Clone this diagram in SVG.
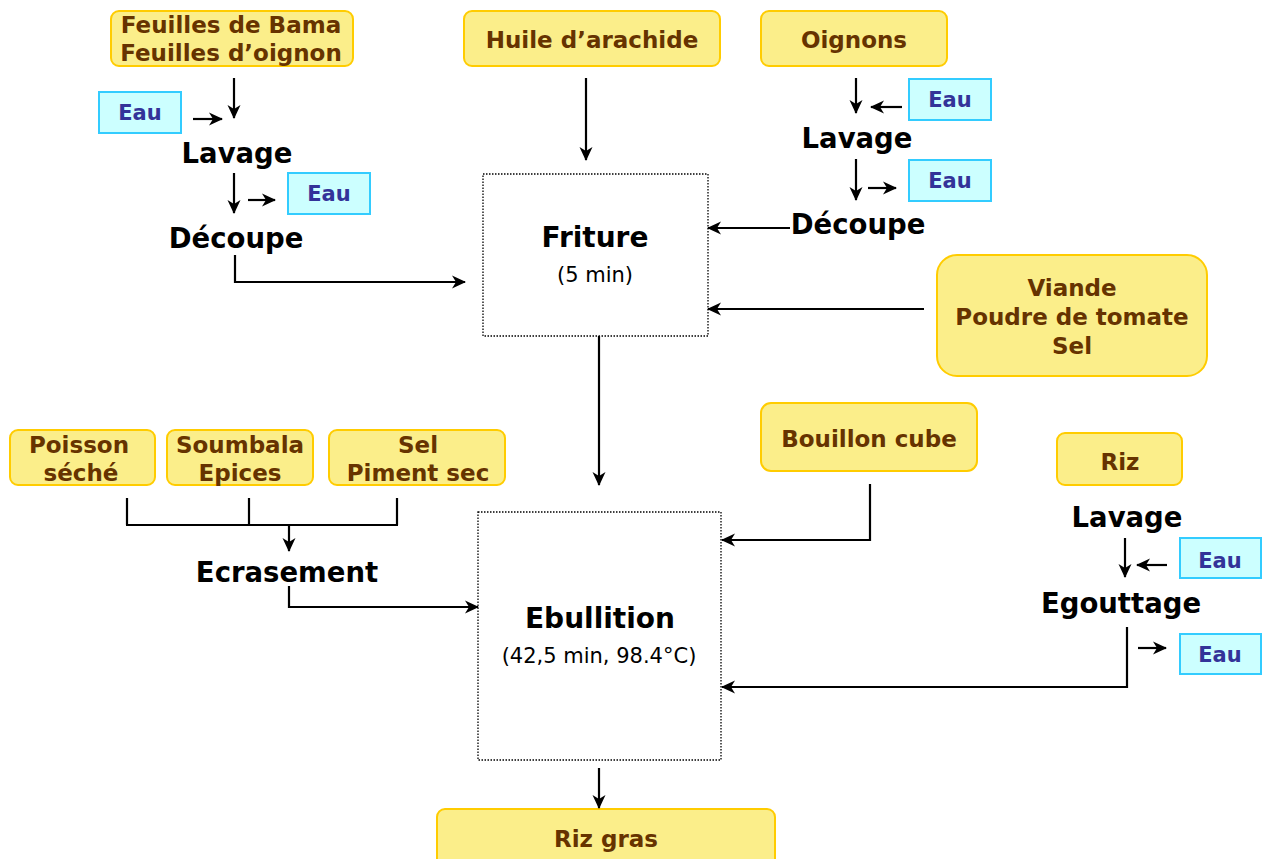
<svg xmlns="http://www.w3.org/2000/svg" width="1264" height="859" viewBox="0 0 1264 859">
  <style>
    .in rect { fill: #FBEE8A; stroke: #FFCC00; stroke-width: 2; }
    .in text { font-family: "DejaVu Sans", Verdana, sans-serif; font-weight: bold; font-size: 23px; fill: #663300; text-anchor: middle; }
    .eau rect { fill: #CCFFFF; stroke: #33CCFF; stroke-width: 2; }
    .eau text { font-family: "DejaVu Sans", Verdana, sans-serif; font-weight: bold; font-size: 21px; fill: #333399; text-anchor: middle; }
    .step { font-family: "DejaVu Sans", Verdana, sans-serif; font-weight: bold; font-size: 27.5px; fill: #000; text-anchor: middle; }
    .proc rect { fill: #fff; stroke: #000; stroke-width: 1.3; stroke-dasharray: 1.5 1.5; }
    .proc .t { font-family: "DejaVu Sans", Verdana, sans-serif; font-weight: bold; font-size: 28px; fill: #000; text-anchor: middle; }
    .proc .s { font-family: "DejaVu Sans", Verdana, sans-serif; font-size: 21px; fill: #000; text-anchor: middle; }
    #connectors path { fill: none; stroke: #000; stroke-width: 2.2; }
    #connectors .a { marker-end: url(#arrow); }
  </style>
  <defs>
    <marker id="arrow" viewBox="0 0 14 14" refX="13" refY="7" markerWidth="14" markerHeight="14" markerUnits="userSpaceOnUse" orient="auto">
      <path d="M0,0.5 L14,7 L0,13.5 L4,7 z" fill="#000"/>
    </marker>
  </defs>
  <rect width="1264" height="859" fill="#fff"/>

  <!-- ingredient inputs -->
  <g id="feuilles" class="in">
    <rect x="111" y="11" width="242" height="55" rx="8"/>
    <text x="231" y="33">Feuilles de Bama</text>
    <text x="231" y="61">Feuilles d’oignon</text>
  </g>
  <g id="huile" class="in">
    <rect x="464" y="11" width="256" height="55" rx="8"/>
    <text x="592" y="48">Huile d’arachide</text>
  </g>
  <g id="oignons" class="in">
    <rect x="761" y="11" width="186" height="55" rx="8"/>
    <text x="854" y="48">Oignons</text>
  </g>
  <g id="viande" class="in">
    <rect x="937" y="255" width="270" height="121" rx="20"/>
    <text x="1072" y="296">Viande</text>
    <text x="1072" y="325">Poudre de tomate</text>
    <text x="1072" y="354">Sel</text>
  </g>
  <g id="bouillon" class="in">
    <rect x="761" y="403" width="216" height="68" rx="10"/>
    <text x="869" y="447">Bouillon cube</text>
  </g>
  <g id="riz" class="in">
    <rect x="1057" y="433" width="125" height="52" rx="8"/>
    <text x="1120" y="470">Riz</text>
  </g>
  <g id="poisson" class="in">
    <rect x="10" y="430" width="145" height="55" rx="8"/>
    <text x="79" y="453">Poisson</text>
    <text x="81" y="481">séché</text>
  </g>
  <g id="soumbala" class="in">
    <rect x="167" y="430" width="146" height="55" rx="8"/>
    <text x="240" y="453">Soumbala</text>
    <text x="240" y="481">Epices</text>
  </g>
  <g id="sel" class="in">
    <rect x="329" y="430" width="176" height="55" rx="8"/>
    <text x="418" y="453">Sel</text>
    <text x="418" y="481">Piment sec</text>
  </g>
  <g id="rizgras" class="in">
    <rect x="437" y="809" width="338" height="62" rx="8"/>
    <text x="606" y="847">Riz gras</text>
  </g>

  <!-- water inputs and outputs -->
  <g id="eau1" class="eau"><rect x="99" y="92" width="82" height="41"/><text x="140" y="120">Eau</text></g>
  <g id="eau2" class="eau"><rect x="288" y="173" width="82" height="41"/><text x="329" y="201">Eau</text></g>
  <g id="eau3" class="eau"><rect x="909" y="79" width="82" height="41"/><text x="950" y="107">Eau</text></g>
  <g id="eau4" class="eau"><rect x="909" y="160" width="82" height="41"/><text x="950" y="188">Eau</text></g>
  <g id="eau5" class="eau"><rect x="1180" y="538" width="81" height="40"/><text x="1220" y="568">Eau</text></g>
  <g id="eau6" class="eau"><rect x="1180" y="634" width="81" height="40"/><text x="1220" y="662">Eau</text></g>

  <!-- unit operations -->
  <g id="lavage1"><text class="step" x="237" y="163">Lavage</text></g>
  <g id="decoupe1"><text class="step" x="236" y="248">Découpe</text></g>
  <g id="lavage2"><text class="step" x="857" y="148">Lavage</text></g>
  <g id="decoupe2"><text class="step" x="858" y="234">Découpe</text></g>
  <g id="lavage3"><text class="step" x="1127" y="527">Lavage</text></g>
  <g id="egouttage"><text class="step" x="1121" y="613">Egouttage</text></g>
  <g id="ecrasement"><text class="step" x="287" y="582">Ecrasement</text></g>

  <g id="friture" class="proc">
    <rect x="483" y="174" width="225" height="162"/>
    <text class="t" x="595" y="247">Friture</text>
    <text class="s" x="595" y="282">(5 min)</text>
  </g>
  <g id="ebullition" class="proc">
    <rect x="478" y="512" width="243" height="248"/>
    <text class="t" x="600" y="628">Ebullition</text>
    <text class="s" x="599" y="663">(42,5 min, 98.4°C)</text>
  </g>

  <g id="connectors">
    <!-- feuilles line -->
    <path class="a" d="M234,78 V118"/>
    <path class="a" d="M193,119 H222"/>
    <path class="a" d="M234,173 V213"/>
    <path class="a" d="M248,200 H275"/>
    <path class="a" d="M235,255 V282 H465"/>
    <!-- huile -->
    <path class="a" d="M586,78 V160"/>
    <!-- oignons line -->
    <path class="a" d="M856,78 V113"/>
    <path class="a" d="M902,107 H871"/>
    <path class="a" d="M856,159 V200"/>
    <path class="a" d="M868,188 H896"/>
    <path class="a" d="M790,228 H708"/>
    <!-- viande -->
    <path class="a" d="M924,309 H708"/>
    <!-- friture to ebullition -->
    <path class="a" d="M599,336 V485"/>
    <!-- bouillon -->
    <path class="a" d="M870,484 V540 H722"/>
    <!-- riz line -->
    <path class="a" d="M1125,538 V577"/>
    <path class="a" d="M1167,565 H1137"/>
    <path class="a" d="M1138,648 H1166"/>
    <path class="a" d="M1127,627 V687 H722"/>
    <!-- condiments -->
    <path d="M127,498 V525 M249,498 V525 M397,498 V525 M126,525 H398"/>
    <path class="a" d="M289,525 V551"/>
    <path class="a" d="M289,586 V607 H478"/>
    <!-- output -->
    <path class="a" d="M599,768 V808"/>
  </g>
</svg>
